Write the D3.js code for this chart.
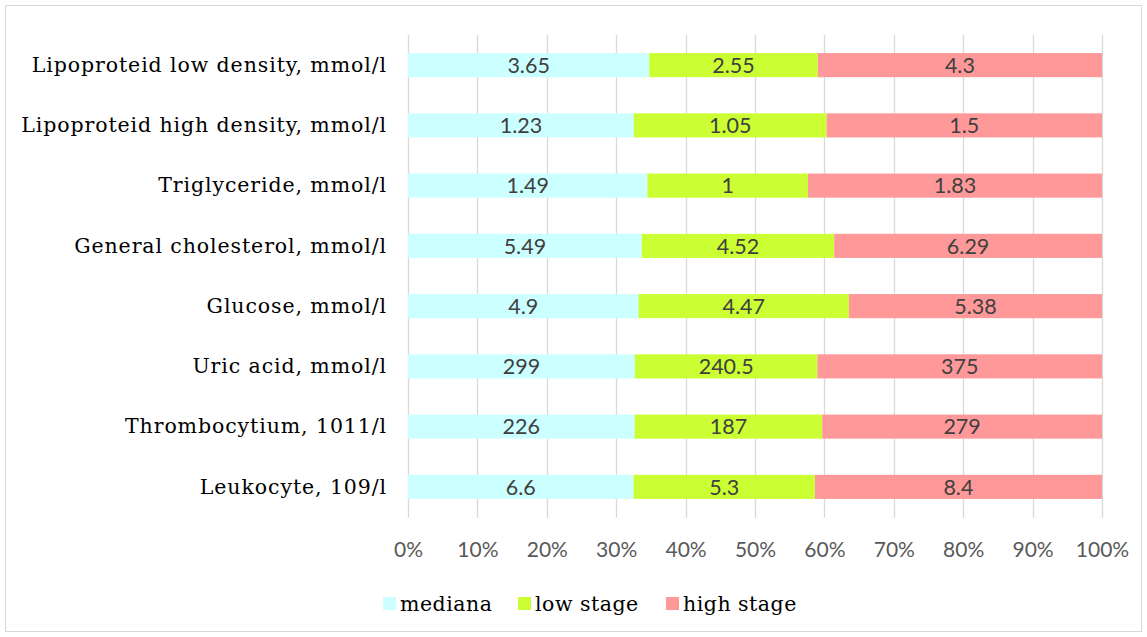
<!DOCTYPE html>
<html><head><meta charset="utf-8">
<script src="https://cdn.jsdelivr.net/npm/d3@7"></script>
<style>html,body{margin:0;padding:0;background:#fff;}svg{display:block;}</style>
</head><body>
<svg id="chart" width="1147" height="637"></svg>
<script>
const categories = ["Lipoproteid low density, mmol/l","Lipoproteid high density, mmol/l","Triglyceride, mmol/l","General cholesterol, mmol/l","Glucose, mmol/l","Uric acid, mmol/l","Thrombocytium, 1011/l","Leukocyte, 109/l"];
const medianaVals = [3.65, 1.23, 1.49, 5.49, 4.9, 299, 226, 6.6];
const lowVals = [2.55, 1.05, 1, 4.52, 4.47, 240.5, 187, 5.3];
const highVals = [4.3, 1.5, 1.83, 6.29, 5.38, 375, 279, 8.4];
const seriesNames = ["mediana", "low stage", "high stage"];
const seriesColors = ["#ccffff", "#ccff33", "#ff9999"];
const tickValues = [0,0.1,0.2,0.3,0.4,0.5,0.6,0.7,0.8,0.9,1.0];

const svg = d3.select("#chart");
svg.append("rect").attr("x",5.5).attr("y",5.5).attr("width",1136).attr("height",626)
  .attr("fill","#fff").attr("stroke","#d9d9d9").attr("stroke-width",1);

const pLeft = 408, pRight = 1102, pTop = 35, pBottom = 517;
const x = d3.scaleLinear().domain([0,1]).range([pLeft,pRight]);
const y = d3.scaleBand().domain(categories).range([pTop,pBottom]).paddingInner(0.6).paddingOuter(0.3);

const rows = categories.map((c,i)=>({cat:c, vals:[medianaVals[i], lowVals[i], highVals[i]]}));
const keys = [0,1,2];
const stackData = rows.map(r=>{const t=d3.sum(r.vals); const o={cat:r.cat}; keys.forEach(k=>o[k]=r.vals[k]/t); o.raw=r.vals; return o;});
const stacked = d3.stack().keys(keys)(stackData);

const serif = "'DejaVu Serif', 'Liberation Serif', serif";
const sans = "Lato, 'Open Sans', sans-serif";

// gridlines
svg.append("g").selectAll("line").data(tickValues).join("line")
  .attr("x1",d=>Math.round(x(d))+0.5).attr("x2",d=>Math.round(x(d))+0.5)
  .attr("y1",pTop).attr("y2",pBottom+1)
  .attr("stroke","#d9d9d9").attr("stroke-width",1.3);

// bars
const g = svg.append("g");
stacked.forEach((layer,k)=>{
  g.append("g").selectAll("rect").data(layer).join("rect")
    .attr("x",d=>x(d[0])).attr("width",d=>x(d[1])-x(d[0]))
    .attr("y",d=>y(d.data.cat)).attr("height",y.bandwidth())
    .attr("fill",seriesColors[k]);
  g.append("g").selectAll("text").data(layer).join("text")
    .attr("x",d=>(x(d[0])+x(d[1]))/2).attr("y",d=>y(d.data.cat)+y.bandwidth()/2)
    .attr("dy","0.36em").attr("text-anchor","middle")
    .attr("font-family",sans).attr("font-size",21.5)
    .attr("fill","#404040").text(d=>d.data.raw[k]);
});

// category labels
svg.append("g").selectAll("text").data(categories).join("text")
  .attr("x",387).attr("y",d=>y(d)+y.bandwidth()/2).attr("dy","0.33em")
  .attr("text-anchor","end").attr("font-family",serif)
  .attr("font-size",20.5).attr("letter-spacing",0.9).attr("fill","#000").text(d=>d);

// x axis
const xAxis = d3.axisBottom(x).tickValues(tickValues).tickFormat(d3.format(".0%")).tickSize(0).tickPadding(0);
const ax = svg.append("g").attr("transform",`translate(0,${pBottom})`).call(xAxis);
ax.select(".domain").remove();
ax.selectAll("text").attr("y",33).attr("dy","0.32em").attr("font-family",sans)
  .attr("font-size",21).attr("fill","#595959");

// legend
const legendX = [383, 518, 666];
const lg = svg.append("g");
seriesNames.forEach((n,i)=>{
  lg.append("rect").attr("x",legendX[i]).attr("y",597).attr("width",13).attr("height",13).attr("fill",seriesColors[i]);
  lg.append("text").attr("x",legendX[i]+17).attr("y",611).attr("font-family",serif)
    .attr("font-size",20.5).attr("letter-spacing",0.5).attr("fill","#000").text(n);
});
</script>
</body></html>
